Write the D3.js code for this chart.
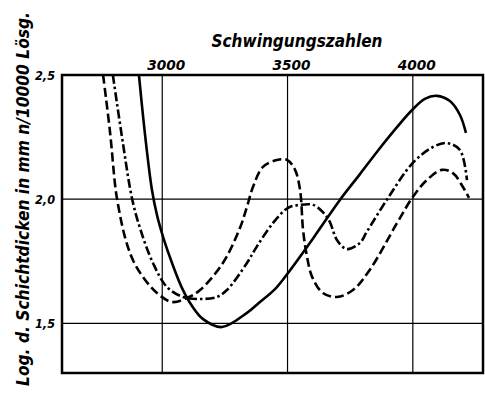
<!doctype html>
<html lang="de">
<head>
<meta charset="utf-8">
<title>Schichtdicken</title>
<style>
    body { margin: 0; background: #fff; }
    svg { display: block; }
    text {
        font-family: "DejaVu Sans Condensed", "DejaVu Sans", sans-serif;
        font-style: italic;
        font-weight: bold;
        fill: #000;
    }
    .grid { stroke: #000; stroke-width: 1.2; }
    .frame { fill: none; stroke: #000; stroke-width: 2.5; }
    .curve { fill: none; stroke: #000; stroke-width: 2.6; stroke-linecap: butt; }
</style>
</head>
<body>
<script src="https://cdn.jsdelivr.net/npm/d3@7"></script>
<script>
    // Schwingungszahlen (x) vs log. Schichtdicke (y)
    const xTicks = [3000, 3500, 4000];
    const yTicks = [1.5, 2.0, 2.5];
    const yTickLabels = ['1,5', '2,0', '2,5'];

    const solidCurve = [
        [2907, 2.50], [2925, 2.319], [2943, 2.158], [2959, 2.037], [2979, 1.936],
        [3007, 1.836], [3039, 1.743], [3079, 1.642], [3119, 1.570], [3163, 1.517],
        [3238, 1.485], [3338, 1.542], [3390, 1.586], [3450, 1.638], [3502, 1.703],
        [3606, 1.848], [3709, 1.997], [3789, 2.101], [3869, 2.206], [3941, 2.295],
        [3997, 2.359], [4048, 2.404], [4096, 2.416], [4148, 2.395], [4188, 2.339],
        [4212, 2.267]
    ];
    const dashedCurve = [
        [2764, 2.50], [2792, 2.267], [2811, 2.065], [2819, 2.005], [2851, 1.848],
        [2883, 1.755], [2923, 1.687], [2979, 1.622], [3039, 1.586], [3099, 1.602],
        [3151, 1.634], [3242, 1.743], [3310, 1.884], [3338, 1.969], [3362, 2.049],
        [3402, 2.130], [3458, 2.158], [3498, 2.158], [3530, 2.118], [3550, 2.037],
        [3562, 1.876], [3578, 1.767], [3598, 1.687], [3641, 1.622], [3697, 1.606],
        [3761, 1.634], [3828, 1.715], [3937, 1.904], [4000, 2.009], [4056, 2.077],
        [4116, 2.118], [4160, 2.105], [4200, 2.049], [4224, 2.005]
    ];
    const dashDotCurve = [
        [2803, 2.50], [2843, 2.226], [2879, 2.005], [2911, 1.884], [2963, 1.743],
        [3019, 1.646], [3083, 1.606], [3151, 1.598], [3218, 1.606], [3258, 1.634],
        [3338, 1.743], [3378, 1.810], [3442, 1.904], [3502, 1.965], [3550, 1.977],
        [3602, 1.977], [3641, 1.948], [3669, 1.908], [3697, 1.836], [3737, 1.799],
        [3789, 1.824], [3816, 1.868], [3901, 2.005], [4000, 2.146], [4080, 2.210],
        [4136, 2.226], [4188, 2.198], [4216, 2.077]
    ];

    const width = 485, height = 395;
    const plotLeft = 62, plotRight = 483, plotTop = 75, plotBottom = 373;

    const x = d3.scaleLinear().domain([2600, 4280]).range([plotLeft, plotRight]);
    const y = d3.scaleLinear().domain([1.3, 2.5]).range([plotBottom, plotTop]);

    const svg = d3.select('body').append('svg')
        .attr('width', width)
        .attr('height', height);

    // grid
    svg.append('g').selectAll('line')
        .data(xTicks).enter()
        .append('line')
        .attr('class', 'grid')
        .attr('x1', d => x(d)).attr('x2', d => x(d))
        .attr('y1', plotTop).attr('y2', plotBottom);

    svg.append('g').selectAll('line')
        .data(yTicks.filter(d => d < 2.5)).enter()
        .append('line')
        .attr('class', 'grid')
        .attr('x1', plotLeft).attr('x2', plotRight)
        .attr('y1', d => y(d)).attr('y2', d => y(d));

    svg.append('rect')
        .attr('class', 'frame')
        .attr('x', plotLeft).attr('y', plotTop)
        .attr('width', plotRight - plotLeft).attr('height', plotBottom - plotTop);

    // curves
    const line = d3.line()
        .x(d => x(d[0]))
        .y(d => y(d[1]))
        .curve(d3.curveCatmullRom.alpha(0.5));

    svg.append('path').datum(solidCurve)
        .attr('class', 'curve')
        .attr('d', line);

    svg.append('path').datum(dashedCurve)
        .attr('class', 'curve')
        .attr('stroke-dasharray', '9,4')
        .attr('d', line);

    svg.append('path').datum(dashDotCurve)
        .attr('class', 'curve')
        .attr('stroke-dasharray', '9,3,2.5,3')
        .attr('d', line);

    // tick labels
    svg.append('g').selectAll('text')
        .data(xTicks).enter()
        .append('text')
        .attr('x', d => x(d) + 4)
        .attr('y', 70)
        .attr('text-anchor', 'middle')
        .attr('textLength', 38)
        .attr('lengthAdjust', 'spacingAndGlyphs')
        .style('font-size', '14px')
        .text(d => d);

    svg.append('g').selectAll('text')
        .data(yTicks).enter()
        .append('text')
        .attr('x', 35)
        .attr('y', d => y(d) + 5)
        .attr('textLength', 20)
        .attr('lengthAdjust', 'spacingAndGlyphs')
        .style('font-size', '12px')
        .text((d, i) => yTickLabels[i]);

    // axis titles
    svg.append('text')
        .attr('x', 297)
        .attr('y', 47)
        .attr('text-anchor', 'middle')
        .attr('textLength', 171)
        .attr('lengthAdjust', 'spacingAndGlyphs')
        .style('font-size', '17px')
        .text('Schwingungszahlen');

    svg.append('text')
        .attr('transform', 'translate(29,199) rotate(-90)')
        .attr('text-anchor', 'middle')
        .attr('textLength', 374)
        .attr('lengthAdjust', 'spacingAndGlyphs')
        .style('font-size', '17.5px')
        .text('Log. d. Schichtdicken in mm n/10000 Lösg.');
</script>
</body>
</html>
